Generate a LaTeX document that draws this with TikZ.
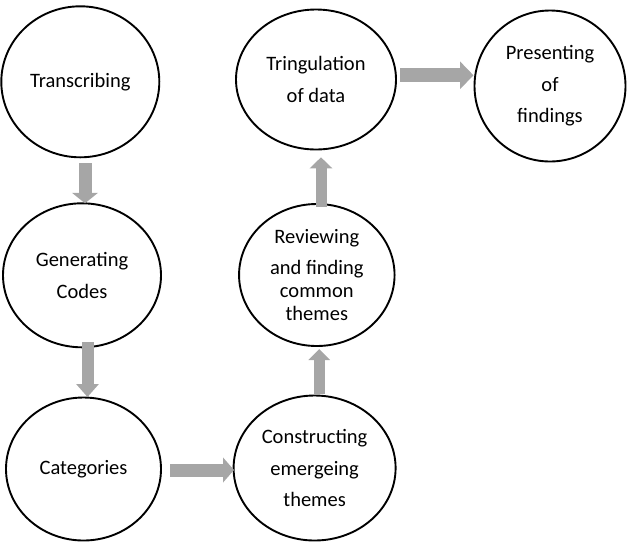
\documentclass[tikz,border=0pt]{standalone}
\usepackage{fontspec}
\setmainfont{Carlito}
\usetikzlibrary{shapes.geometric,arrows.meta}
\definecolor{arrowgray}{RGB}{166,166,166}
\tikzset{
  stage/.style={draw=black, line width=1.9pt, shape=ellipse, inner xsep=0pt, inner ysep=-8pt,
    align=center, font={\fontsize{20.5}{31.5}\selectfont}},
  blockarrow/.style={draw=arrowgray, line width=#1},
}
\begin{document}
\begin{tikzpicture}[x=1pt,y=1pt]
\useasboundingbox (0,0) rectangle (628,-542);
\node[stage, minimum width=158pt, minimum height=151pt] (tr) at (80.3,-81.8) {Transcribing};
\node[stage, minimum width=158pt, minimum height=144pt] (gc) at (82,-275.3) {Generating\\Codes};
\node[stage, minimum width=155pt, minimum height=143pt] (cat) at (83.5,-469) {Categories};
\node[stage, minimum width=162pt, minimum height=145pt] (con) at (314.6,-468) {Constructing\\emergeing\\themes};
\node[stage, minimum width=155.5pt, minimum height=142pt] (rev) at (316.8,-275) {Reviewing\\and finding\\[-8.5pt]common\\[-8.5pt]themes};
\node[stage, minimum width=160pt, minimum height=140pt] (tri) at (316,-79.5) {Tringulation\\of data};
\node[stage, minimum width=151pt, minimum height=151pt] (pre) at (550,-86) {Presenting\\of\\findings};

\coordinate (a1s) at (85,-163.3);    \coordinate (a1e) at (85,-203.3);
\coordinate (a2s) at (87.5,-342);    \coordinate (a2e) at (87.5,-397);
\coordinate (a3s) at (170,-470);     \coordinate (a3e) at (234,-470);
\coordinate (a4s) at (319.2,-394);   \coordinate (a4e) at (319.2,-349);
\coordinate (a5s) at (321,-206.7);   \coordinate (a5e) at (321,-157.3);
\coordinate (a6s) at (400,-75.3);    \coordinate (a6e) at (473.5,-75.3);

\draw[blockarrow=13pt, -{Triangle[width=25.5pt,length=10.5pt]}, arrowgray] (a1s) -- (a1e);
\draw[blockarrow=12pt, -{Triangle[width=22pt,length=13pt]}, arrowgray] (a2s) -- (a2e);
\draw[blockarrow=13pt, -{Triangle[width=24.5pt,length=11pt]}, arrowgray] (a3s) -- (a3e);
\draw[blockarrow=11pt, -{Triangle[width=21pt,length=11pt]}, arrowgray] (a4s) -- (a4e);
\draw[blockarrow=11pt, -{Triangle[width=22pt,length=11pt]}, arrowgray] (a5s) -- (a5e);
\draw[blockarrow=14pt, -{Triangle[width=27pt,length=13.5pt]}, arrowgray] (a6s) -- (a6e);
\end{tikzpicture}
\end{document}
